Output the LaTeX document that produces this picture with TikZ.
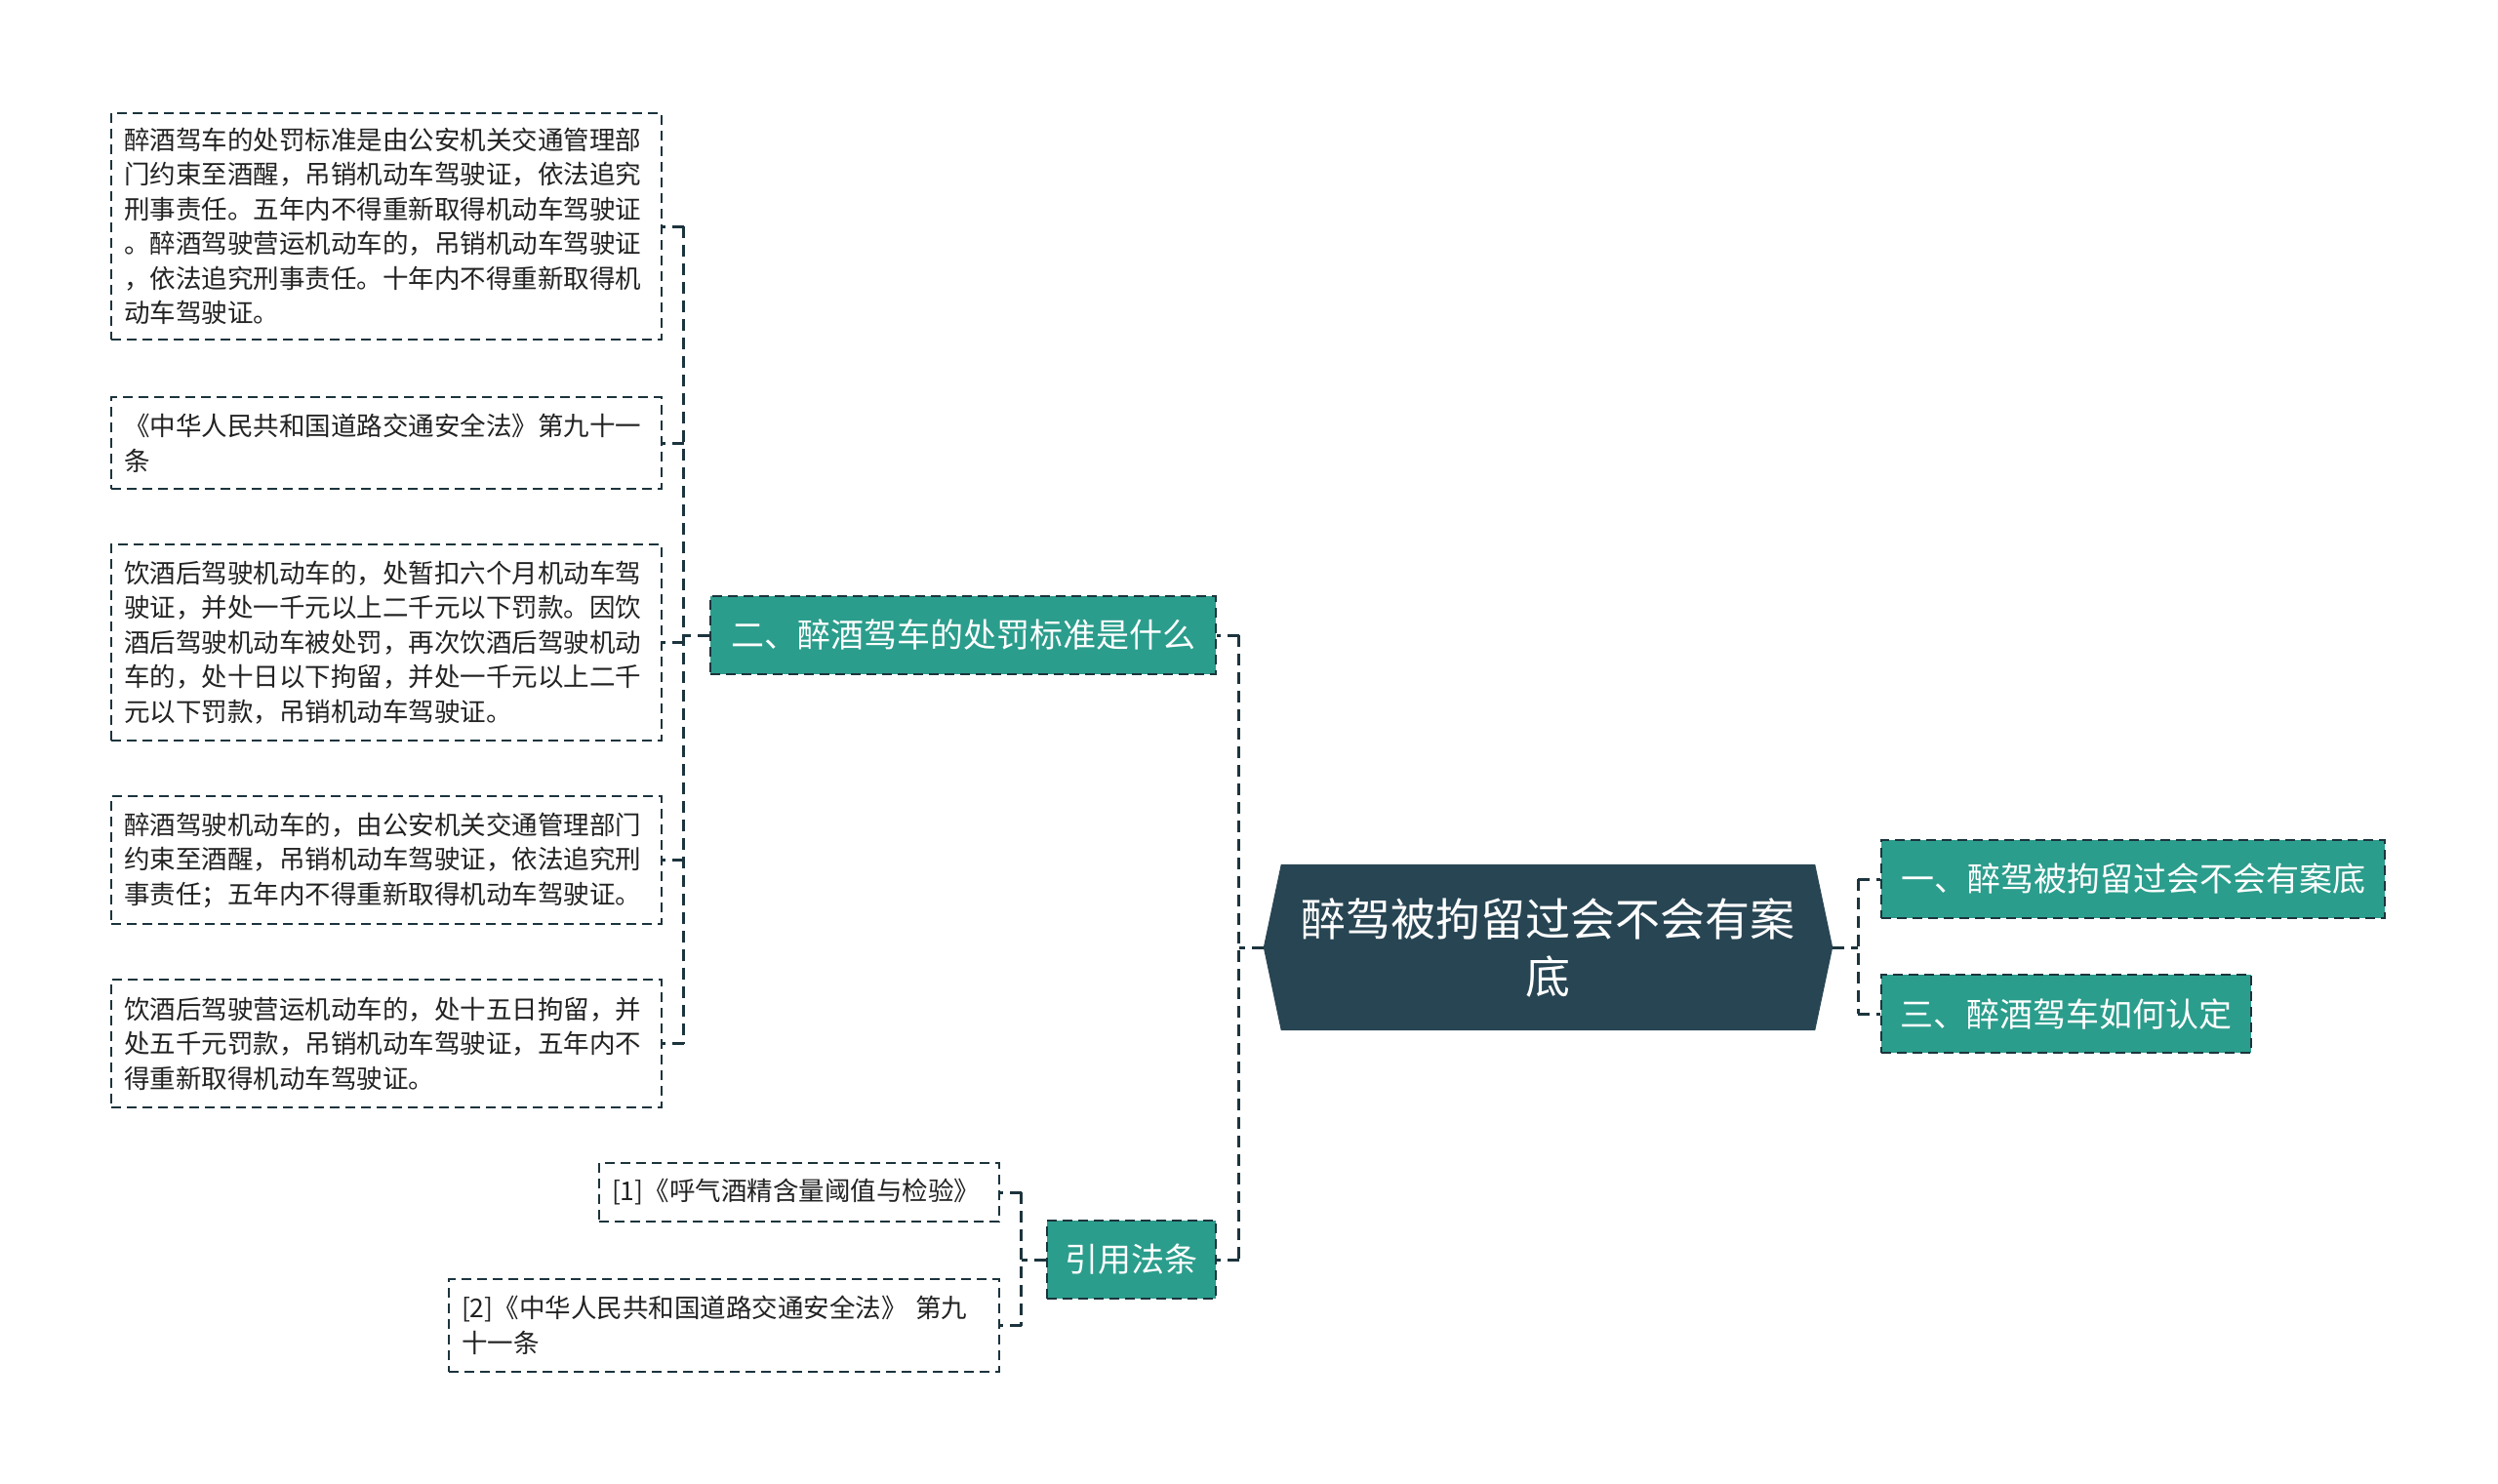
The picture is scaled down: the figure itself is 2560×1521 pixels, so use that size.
\documentclass[tikz,border=0pt]{standalone}
\usepackage{fontspec}
\setmainfont{Noto Sans CJK SC}
\usetikzlibrary{calc,backgrounds}
\definecolor{rootc}{HTML}{284553}
\definecolor{tealc}{HTML}{2B9D8C}
\definecolor{linec}{HTML}{1C343D}
\definecolor{txtc}{HTML}{222222}
\tikzset{
  conn/.style={draw=linec, line width=3pt, dash pattern=on 12pt off 7pt},
  leaf/.style={draw=linec, line width=2.4pt, dash pattern=on 10pt off 6pt, fill=white,
    text=txtc, font=\fontsize{26.5}{35.5}\selectfont, align=left,
    inner xsep=13pt, inner ysep=0pt, anchor=center},
  sub/.style={fill=tealc, draw=linec, line width=2.4pt, dash pattern=on 10pt off 6pt,
    text=white, font=\fontsize{34}{40}\selectfont, inner sep=0pt,
    minimum height=80pt, anchor=center},
}
\begin{document}
\begin{tikzpicture}[x=1pt,y=-1pt]
\useasboundingbox (0,0) rectangle (2560,1521);
% root
\node[text=white, font=\fontsize{46}{59}\selectfont, align=center,
  minimum width=583pt, minimum height=170pt, inner sep=0pt] (root) at (1586.5,971)
  {醉驾被拘留过会不会有案\\底};
\begin{pgfonlayer}{background}
\fill[rootc] ($(root.north west)+(18,0)$) -- ($(root.north east)+(-18,0)$) -- (root.east)
  -- ($(root.south east)+(-18,0)$) -- ($(root.south west)+(18,0)$) -- (root.west) -- cycle;
\end{pgfonlayer}
% right subtopics
\node[sub, minimum width=516pt] (r1) at (2186,901) {一、醉驾被拘留过会不会有案底};
\node[sub, minimum width=379pt] (r3) at (2117.5,1039) {三、醉酒驾车如何认定};
% left subtopics
\node[sub, minimum width=518pt] (b2) at (987,651) {二、醉酒驾车的处罚标准是什么};
\node[sub, minimum width=173pt] (cite) at (1159.5,1291) {引用法条};
% leaves of b2
\node[leaf, text width=538pt, minimum height=232pt] (l1) at (396,232)
 {醉酒驾车的处罚标准是由公安机关交通管理部\\门约束至酒醒，吊销机动车驾驶证，依法追究\\刑事责任。五年内不得重新取得机动车驾驶证\\。醉酒驾驶营运机动车的，吊销机动车驾驶证\\，依法追究刑事责任。十年内不得重新取得机\\动车驾驶证。};
\node[leaf, text width=538pt, minimum height=94pt] (l2) at (396,454)
 {《中华人民共和国道路交通安全法》第九十一\\条};
\node[leaf, text width=538pt, minimum height=201pt] (l3) at (396,658.5)
 {饮酒后驾驶机动车的，处暂扣六个月机动车驾\\驶证，并处一千元以上二千元以下罚款。因饮\\酒后驾驶机动车被处罚，再次饮酒后驾驶机动\\车的，处十日以下拘留，并处一千元以上二千\\元以下罚款，吊销机动车驾驶证。};
\node[leaf, text width=538pt, minimum height=131pt] (l4) at (396,881.5)
 {醉酒驾驶机动车的，由公安机关交通管理部门\\约束至酒醒，吊销机动车驾驶证，依法追究刑\\事责任；五年内不得重新取得机动车驾驶证。};
\node[leaf, text width=538pt, minimum height=131pt] (l5) at (396,1069.5)
 {饮酒后驾驶营运机动车的，处十五日拘留，并\\处五千元罚款，吊销机动车驾驶证，五年内不\\得重新取得机动车驾驶证。};
% leaves of cite
\node[leaf, text width=384pt, minimum height=60pt] (c1) at (819,1222)
 {[1]《呼气酒精含量阈值与检验》};
\node[leaf, text width=538pt, minimum height=95pt] (c2) at (742,1358.5)
 {[2]《中华人民共和国道路交通安全法》 第九\\十一条};
% junctions
\coordinate (jr) at ([xshift=26pt]root.east);
\coordinate (jl) at ([xshift=-25pt]root.west);
\coordinate (jb) at ([xshift=-26pt]b2.west);
\coordinate (jc) at ([xshift=-25pt]cite.west);
% connectors: root right
\draw[conn] (root.east) -- (jr);
\draw[conn] (jr |- r1.west) -- (jr |- r3.west);
\draw[conn] (jr |- r1.west) -- (r1.west);
\draw[conn] (jr |- r3.west) -- (r3.west);
% root left
\draw[conn] (root.west) -- (jl);
\draw[conn] (jl |- b2.east) -- (jl |- cite.east);
\draw[conn] (jl |- b2.east) -- (b2.east);
\draw[conn] (jl |- cite.east) -- (cite.east);
% b2 leaves
\draw[conn] (b2.west) -- (jb);
\draw[conn] (jb |- l1.east) -- (jb |- l5.east);
\foreach \n in {l1,l2,l3,l4,l5} \draw[conn] (jb |- \n.east) -- (\n.east);
% cite leaves
\draw[conn] (cite.west) -- (jc);
\draw[conn] (jc |- c1.east) -- (jc |- c2.east);
\draw[conn] (jc |- c1.east) -- (c1.east);
\draw[conn] (jc |- c2.east) -- (c2.east);
\end{tikzpicture}
\end{document}
